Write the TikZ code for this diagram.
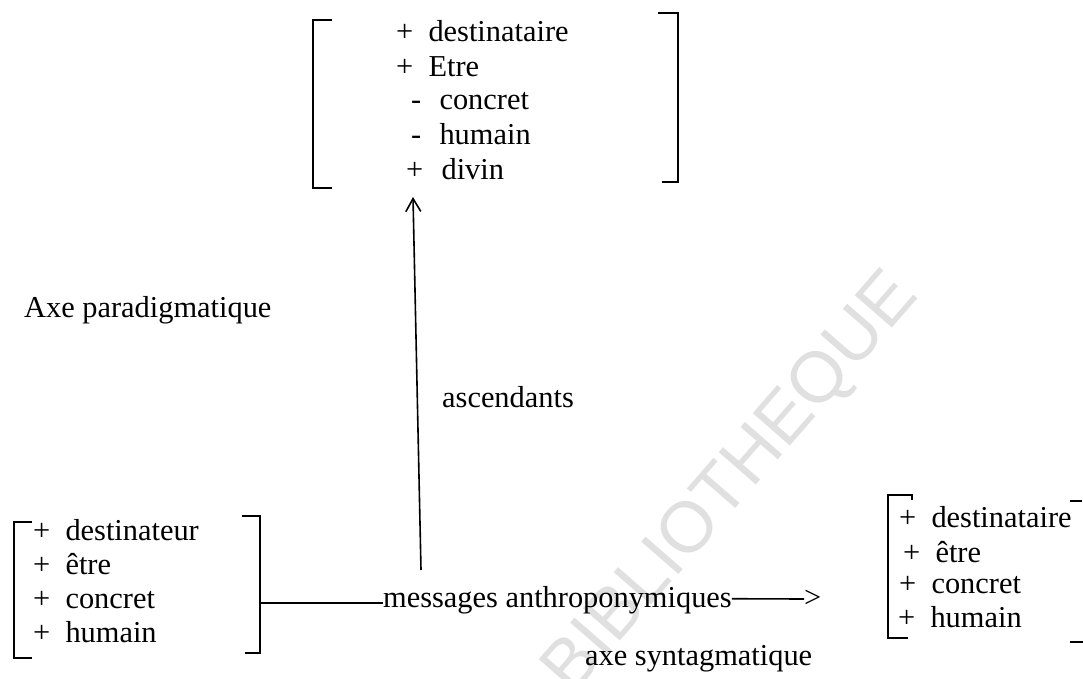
\documentclass[tikz,border=0pt]{standalone}
\usepackage{fontspec}
\setmainfont{Liberation Serif}
\newfontfamily\wmfont{Liberation Sans}
\usetikzlibrary{arrows.meta}
\begin{document}
\begin{tikzpicture}[x=1bp,y=-1bp,
  lbl/.style={anchor=base west,inner sep=0pt,font=\fontsize{30.5}{36}\selectfont},
  brk/.style={line width=1.7bp},
  conn/.style={line width=1.6bp},
  arr/.style={line width=1.6bp,-{Straight Barb[length=13bp,width=15bp,line width=1.6bp]}},
  wm/.style={font=\wmfont\fontsize{72}{72}\selectfont,text=black!12,rotate=49,anchor=base west,inner sep=0pt}]
\useasboundingbox (0,0) rectangle (1083,679);

% watermark
\node[wm] (wmark) at (572,697) {BIBLIOTHEQUE};

% upper feature set
\node[lbl] (t1) at (396,42)  {+\enspace destinataire};
\node[lbl] (t2) at (396,77)  {+\enspace Etre};
\node[lbl] (t3) at (411,110) {-\hspace{0.6em}concret};
\node[lbl] (t4) at (411,145) {-\hspace{0.6em}humain};
\node[lbl] (t5) at (406,180) {+\hspace{0.6em}divin};
\draw[brk] (332,20) -- (313,20) -- (313,188) -- (332,188);
\draw[brk] (658,13) -- (678,13) -- (678,182) -- (662,182);

% axis labels
\node[lbl] (parad) at (24,317) {Axe paradigmatique};
\node[lbl] (asc) at (442,407) {ascendants};
\node[lbl] (synt) at (585,665) {axe syntagmatique};

% left feature set
\node[lbl] (l1) at (33,540) {+\enspace destinateur};
\node[lbl] (l2) at (33,574) {+\enspace être};
\node[lbl] (l3) at (33,608) {+\enspace concret};
\node[lbl] (l4) at (33,642) {+\enspace humain};
\draw[brk] (32,522) -- (14,522) -- (14,658) -- (32,658);
\draw[brk] (242,516) -- (260,516) -- (260,653) -- (245,653);

% right feature set
\node[lbl] (r1) at (899,527) {+\enspace destinataire};
\node[lbl] (r2) at (903,562) {+\enspace être};
\node[lbl] (r3) at (899,593) {+\enspace concret};
\node[lbl] (r4) at (898,627) {+\enspace humain};
\draw[brk] (912,500) -- (912,495) -- (888,495) -- (888,638) -- (908,638);
\draw[brk] (1070,501) -- (1082,501);
\draw[brk] (1070,642) -- (1083,642);

% syntagmatic axis
\coordinate (lbk) at (261,603);
\node[lbl] (msg) at (383,607) {messages anthroponymiques};
\node[lbl] (gt) at (804,607) {>};
\draw[conn] (lbk) -- (msg.west |- lbk);
\draw[conn] (msg.east) ++(0,-1) -- (gt.west |- 0,599);

% paradigmatic axis
\coordinate (abot) at (421,570);
\coordinate (atop) at (413,197);
\draw[arr] (abot) -- (atop);
\end{tikzpicture}
\end{document}
